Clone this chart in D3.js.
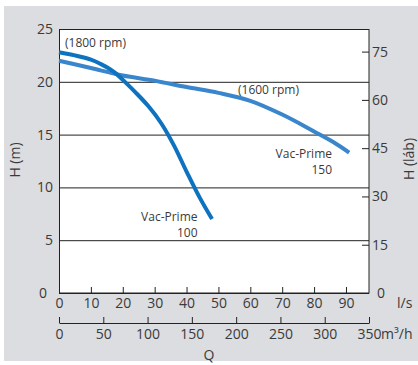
<!DOCTYPE html>
<html>
<head>
<meta charset="utf-8">
<script src="https://cdn.jsdelivr.net/npm/d3@7"></script>
<style>
  html, body { margin: 0; padding: 0; background: #ffffff; }
  svg { display: block; }
  text { font-family: "Open Sans", "Noto Sans", sans-serif; fill: #3a3a3a; }
</style>
</head>
<body>
<svg id="chart" width="418" height="365"></svg>
<script>
// ---- data ----
const q1800 = [0, 5, 10, 13, 16, 18, 21, 24, 28, 32, 36, 40, 44, 48];
const h1800 = [22.8, 22.5, 22.1, 21.7, 21.2, 20.75, 19.9, 19.0, 17.7, 16.1, 14.0, 11.5, 9.1, 7.0];
const q1600 = [0, 10, 20, 30, 40, 50, 60, 70, 80, 86, 91];
const h1600 = [22.0, 21.3, 20.6, 20.1, 19.5, 18.95, 18.2, 16.9, 15.3, 14.3, 13.3];
const hTicks = [0, 5, 10, 15, 20, 25];
const ftTicks = [0, 15, 30, 45, 60, 75];
const lsTicks = [0, 10, 20, 30, 40, 50, 60, 70, 80, 90];
const m3hTicks = [0, 50, 100, 150, 200, 250, 300, 350];
const labels = {
  rpm1800: "(1800 rpm)", rpm1600: "(1600 rpm)",
  vp: "Vac-Prime", m100: "100", m150: "150",
  yLeft: "H (m)", yRight: "H (láb)", xTitle: "Q", lsUnit: "l/s", m3Unit: "m³/h"
};

// ---- layout ----
const svg = d3.select("#chart");
const L = 59, T = 29, W = 310, H = 264;

svg.append("rect").attr("x", 4).attr("y", 6).attr("width", 414).attr("height", 355).attr("fill", "#dcdde0");

const g = svg.append("g").attr("transform", `translate(${L},${T})`);
g.append("rect").attr("x", 0).attr("y", 0).attr("width", W).attr("height", H).attr("fill", "#ffffff");

const x = d3.scaleLinear().domain([0, 350 / 3.6]).range([0, W]);
const xm = d3.scaleLinear().domain([0, 350]).range([0, W]);
const y = d3.scaleLinear().domain([0, 25]).range([H, 0]);
const yf = d3.scaleLinear().domain([0, 25 / 0.3048]).range([H, 0]);

const tickFont = "14px";

// left axis + gridlines
const ay = g.append("g").call(d3.axisLeft(y).tickValues(hTicks).tickSize(-W).tickSizeOuter(0).tickPadding(6));
ay.select(".domain").remove();
ay.selectAll("line").attr("stroke", "#222");
ay.selectAll("text").style("font-size", tickFont).attr("fill", "#3a3a3a");
ay.selectAll(".tick").filter(d => d === 0).select("text").attr("x", -12);

// right axis (feet)
const ar = g.append("g").attr("transform", `translate(${W},0)`)
  .call(d3.axisRight(yf).tickValues(ftTicks).tickSizeInner(-7).tickSizeOuter(0).tickPadding(3));
ar.select(".domain").remove();
ar.selectAll("line").attr("stroke", "#222");
ar.selectAll("text").style("font-size", tickFont).attr("fill", "#3a3a3a");
ar.selectAll(".tick").filter(d => d === 0).select("text").attr("x", 8);

// bottom axis l/s
const ax = g.append("g").attr("transform", `translate(0,${H})`)
  .call(d3.axisBottom(x).tickValues(lsTicks).tickSizeInner(-6).tickSizeOuter(0).tickPadding(5));
ax.select(".domain").remove();
ax.selectAll("line").attr("stroke", "#222");
ax.selectAll("text").style("font-size", tickFont).attr("fill", "#3a3a3a");

// second axis m3/h
const am = g.append("g").attr("transform", `translate(0,${H + 30})`)
  .call(d3.axisBottom(xm).tickValues(m3hTicks).tickSizeInner(-6).tickSizeOuter(0).tickPadding(6));
am.select(".domain").attr("stroke", "#222");
am.selectAll("line").attr("stroke", "#222");
am.selectAll("text").style("font-size", tickFont).attr("fill", "#3a3a3a");

// plot border
g.append("rect").attr("x", 0.5).attr("y", 0.5).attr("width", W - 0.5).attr("height", H - 0.5)
  .attr("fill", "none").attr("stroke", "#222").attr("stroke-width", 1);

// curves
const line = d3.line().x(d => x(d[0])).y(d => y(d[1])).curve(d3.curveCatmullRom.alpha(0.5));
g.append("path").datum(q1600.map((q, i) => [q, h1600[i]]))
  .attr("d", line).attr("fill", "none").attr("stroke", "#3a86cc").attr("stroke-width", 4);
g.append("path").datum(q1800.map((q, i) => [q, h1800[i]]))
  .attr("d", line).attr("fill", "none").attr("stroke", "#0d72bf").attr("stroke-width", 4);

// annotations
const ann = (tx, ty, s, anchor) => g.append("text").attr("x", tx).attr("y", ty)
  .attr("text-anchor", anchor || "start").style("font-size", "12px").text(s);
ann(6, 18, labels.rpm1800);
ann(179, 65, labels.rpm1600);
ann(273, 129, labels.vp, "end");
ann(273, 145, labels.m150, "end");
ann(138.5, 192, labels.vp, "end");
ann(138.5, 208, labels.m100, "end");

// axis titles
svg.append("text").attr("transform", "translate(20,160) rotate(-90)").attr("text-anchor", "middle")
  .style("font-size", "14px").text(labels.yLeft);
svg.append("text").attr("transform", "translate(414,159) rotate(-90)").attr("text-anchor", "middle")
  .style("font-size", "14px").text(labels.yRight);
svg.append("text").attr("x", 209).attr("y", 360).attr("text-anchor", "middle")
  .style("font-size", "14px").text(labels.xTitle);
svg.append("text").attr("x", 397).attr("y", 308).style("font-size", "14px").text(labels.lsUnit);
svg.append("text").attr("x", 381).attr("y", 339).style("font-size", "14px").text(labels.m3Unit);
</script>
</body>
</html>
